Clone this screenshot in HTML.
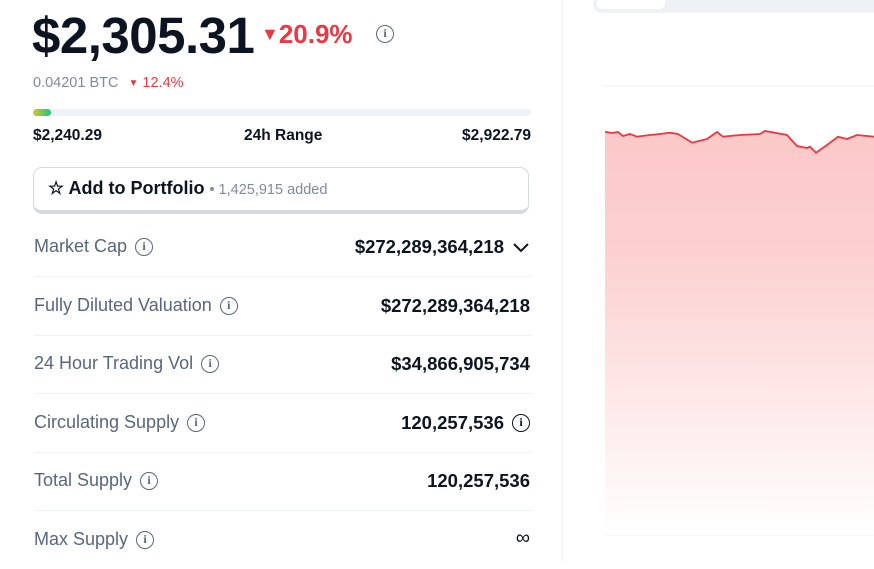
<!DOCTYPE html>
<html><head><style>
body{margin:0;width:874px;height:561px;overflow:hidden;background:#fff;font-family:"Liberation Sans",sans-serif;position:relative;color:#0d1421}
.a{position:absolute;white-space:nowrap}
.row{position:absolute;left:34px;width:498px;height:58px;border-bottom:1px solid #eff2f5}
.row .l{position:absolute;left:0;top:18px;font-size:18px;color:#58667e;display:flex;align-items:center}
.row .r{position:absolute;right:2px;top:18px;font-size:18.5px;font-weight:bold;color:#0d1421;display:flex;align-items:center}
.i{display:inline-block;box-sizing:border-box;width:18px;height:18px;border:1.7px solid #58667e;border-radius:50%;font-size:12px;line-height:15px;text-align:center;font-weight:bold;margin-left:8px;color:#58667e;font-family:"Liberation Serif",serif}
</style></head><body>
<div class="a" style="left:32px;top:6px;font-size:51px;font-weight:bold;letter-spacing:-0.5px">$2,305.31</div>
<div class="a" style="left:261px;top:19px;font-size:26px;font-weight:bold;color:#ea3943"><span style="font-size:18px;vertical-align:3px">▼</span>20.9%</div>
<div class="a" style="left:376px;top:24px"><span class="i" style="margin:0">i</span></div>
<div class="a" style="left:33px;top:75px;font-size:14.5px;color:#808a9d">0.04201 BTC <span style="color:#ea3943;margin-left:6px"><span style="font-size:10px;vertical-align:1px">▼</span> 12.4%</span></div>
<div class="a" style="left:33px;top:109px;width:498px;height:7px;border-radius:4px;background:#eff2f5"></div>
<div class="a" style="left:33px;top:109px;width:18px;height:7px;border-radius:4px;background:linear-gradient(90deg,#d5c828,#16c784)"></div>
<div class="a" style="left:33px;top:127px;font-size:15.5px;font-weight:bold">$2,240.29</div>
<div class="a" style="left:244px;top:127px;font-size:15.5px;font-weight:bold">24h Range</div>
<div class="a" style="right:343px;top:127px;font-size:15.5px;font-weight:bold">$2,922.79</div>
<div class="a" style="left:33px;top:167px;width:494px;height:42px;border:1.5px solid #d5dae1;border-bottom:4px solid #d5dae1;border-radius:9px"></div>
<div class="a" style="left:48px;top:178px;font-size:18px;font-weight:bold">☆ Add to Portfolio <span style="font-weight:normal;color:#808a9d;font-size:14.5px">• 1,425,915 added</span></div>
<div class="row" style="top:218px"><span class="l">Market Cap<span class="i">i</span></span><span class="r">$272,289,364,218 <svg width="18" height="12" style="margin-left:8px"><path d="M2,3 L9,10 L16,3" fill="none" stroke="#0d1421" stroke-width="2"/></svg></span></div>
<div class="row" style="top:277px"><span class="l">Fully Diluted Valuation<span class="i">i</span></span><span class="r">$272,289,364,218</span></div>
<div class="row" style="top:335px"><span class="l">24 Hour Trading Vol<span class="i">i</span></span><span class="r">$34,866,905,734</span></div>
<div class="row" style="top:394px"><span class="l">Circulating Supply<span class="i">i</span></span><span class="r">120,257,536<span class="i" style="border-color:#0d1421;color:#0d1421">i</span></span></div>
<div class="row" style="top:452px"><span class="l">Total Supply<span class="i">i</span></span><span class="r">120,257,536</span></div>
<div class="row" style="top:511px;border:none"><span class="l">Max Supply<span class="i">i</span></span><span class="r" style="font-weight:normal;font-size:20px;top:16px">∞</span></div>
<div class="a" style="left:562px;top:0;width:1px;height:561px;background:#eff2f5"></div>
<div class="a" style="left:593px;top:-5px;width:290px;height:18px;background:#eff2f5;border-radius:8px"></div>
<div class="a" style="left:597px;top:-5px;width:68px;height:14px;background:#fff;border-radius:6px"></div>
<svg class="a" style="left:0;top:0" width="874" height="561">
<defs><linearGradient id="g" x1="0" y1="0" x2="0" y2="1"><stop offset="0" stop-color="#fcc8c8"/><stop offset="0.3" stop-color="#fcd0d0"/><stop offset="1" stop-color="#fff"/></linearGradient></defs>
<g stroke="#eff2f5" stroke-width="1"><line x1="604" y1="86" x2="874" y2="86"/><line x1="604" y1="199" x2="874" y2="199"/><line x1="604" y1="311" x2="874" y2="311"/><line x1="604" y1="423" x2="874" y2="423"/><line x1="604" y1="535" x2="874" y2="535"/></g>
<path d="M605,131.7 L612,133 L618,132 L623,136 L630,134 L637,136.7 L650,135 L660,134 L670,132.7 L678,134 L692,142.7 L707,139 L717,132 L723,136.7 L740,135 L760,134 L765,131 L787,135 L797,146 L807,148 L810,146.7 L816,152.7 L827,145 L838,136.7 L847,139 L857,135 L874,136.7 L874,535 L605,535 Z" fill="url(#g)"/>
<path d="M605,131.7 L612,133 L618,132 L623,136 L630,134 L637,136.7 L650,135 L660,134 L670,132.7 L678,134 L692,142.7 L707,139 L717,132 L723,136.7 L740,135 L760,134 L765,131 L787,135 L797,146 L807,148 L810,146.7 L816,152.7 L827,145 L838,136.7 L847,139 L857,135 L874,136.7" fill="none" stroke="#ea3943" stroke-width="1.8"/>
</svg>
</body></html>
